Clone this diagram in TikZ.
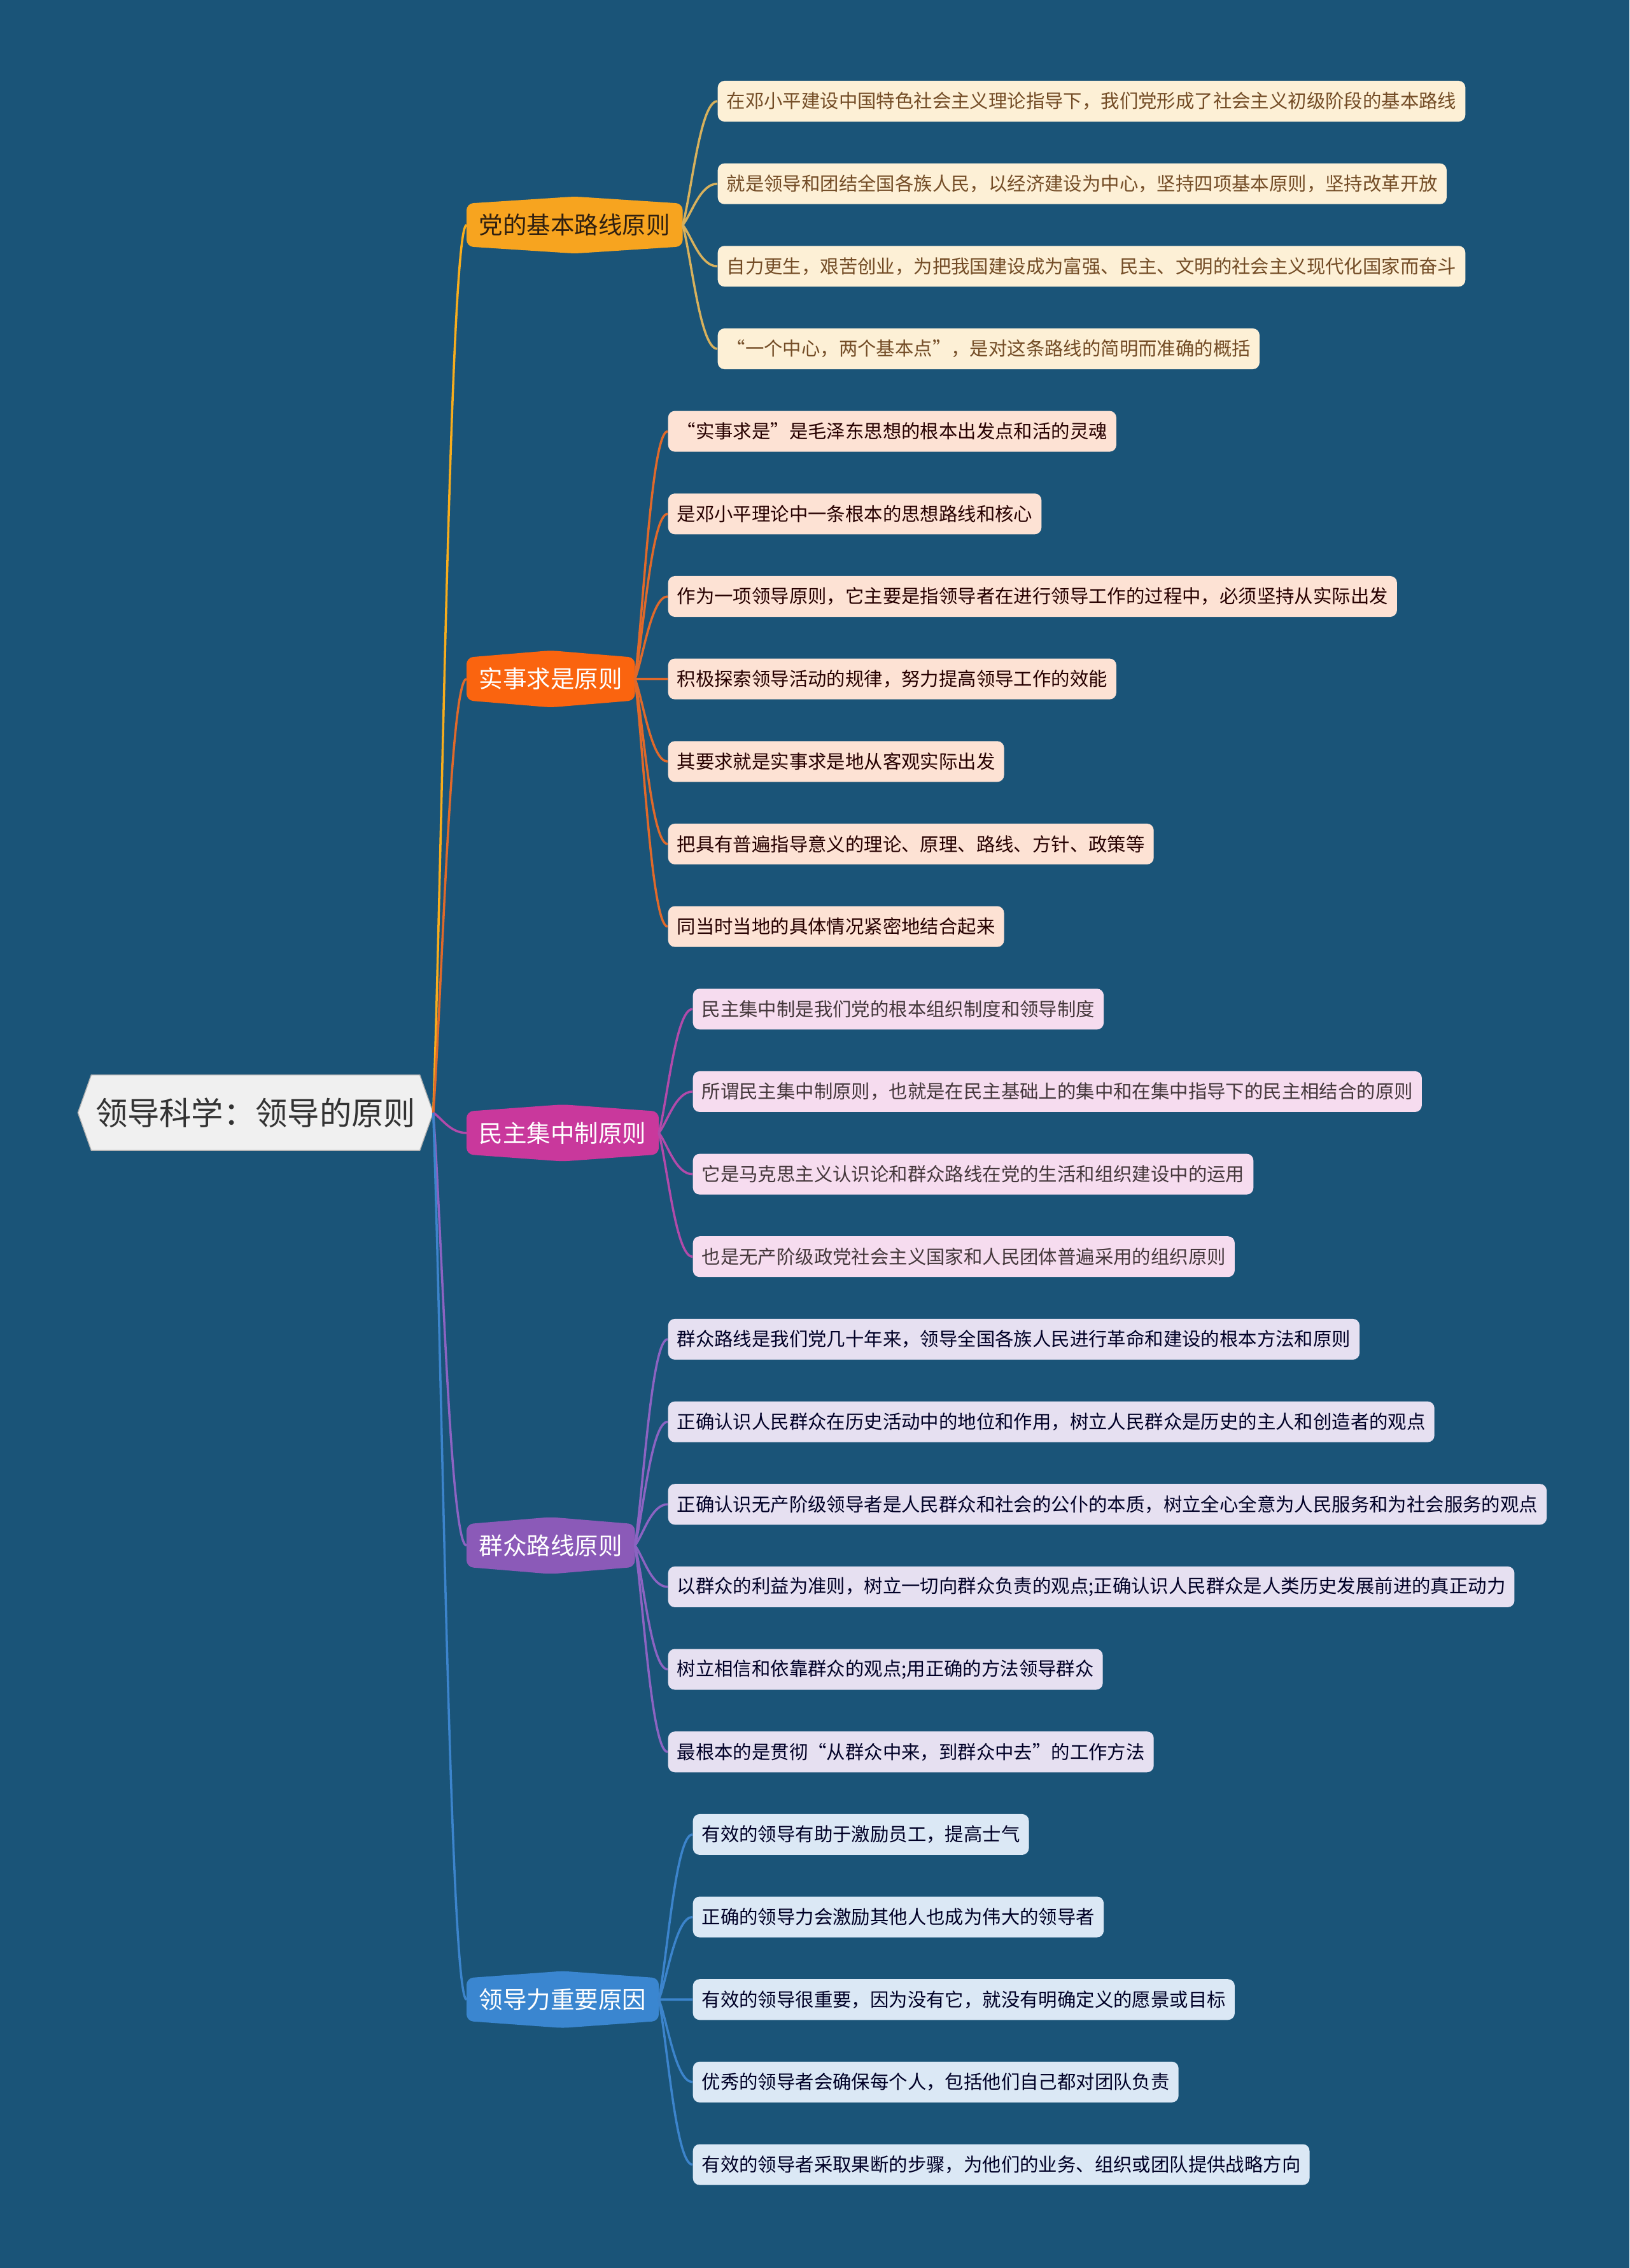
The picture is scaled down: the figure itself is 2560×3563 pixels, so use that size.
\documentclass[tikz,border=0pt]{standalone}
\usepackage{fontspec}
\setmainfont{Noto Sans CJK SC}
\usepackage{tikz}
\usetikzlibrary{calc}

\definecolor{bgblue}{HTML}{1A5478}
\definecolor{rootfill}{HTML}{F0F0F0}
\definecolor{ca}{HTML}{F7A41F}
\definecolor{cb}{HTML}{FA640F}
\definecolor{cc}{HTML}{C9389C}
\definecolor{cd}{HTML}{8B5AB8}
\definecolor{ce}{HTML}{3A86D0}
\definecolor{la}{HTML}{FDF0D6}
\definecolor{lb}{HTML}{FDE2D4}
\definecolor{lc}{HTML}{F6DCEF}
\definecolor{ld}{HTML}{E6E0F1}
\definecolor{le}{HTML}{DBE8F5}
\definecolor{ka}{HTML}{D8B15C}
\definecolor{kb}{HTML}{E0692A}
\definecolor{kc}{HTML}{B24AAA}
\definecolor{kd}{HTML}{8C63C2}
\definecolor{ke}{HTML}{3C84CC}

\pgfdeclarelayer{back}
\pgfdeclarelayer{shapes}
\pgfsetlayers{back,shapes,main}

\tikzset{
  link/.style={line width=1pt,
    to path={.. controls ($(\tikztostart)!0.25!(\tikztotarget)$) and ($(\tikztostart |- \tikztotarget)!0.5!(\tikztotarget)$) .. (\tikztotarget)}},
  rootbox/.style={inner xsep=0.06cm, inner ysep=0pt, minimum height=1.17cm, text=black!80,
    font=\fontsize{14.3}{17}\selectfont},
  branch/.style={anchor=west, inner xsep=0.19cm, inner ysep=0pt, minimum height=0.66cm,
    font=\fontsize{10.67}{13}\selectfont},
  leaf/.style={anchor=west, rounded corners=3pt, inner xsep=0.14cm, inner ysep=0pt,
    minimum height=0.64cm, font=\fontsize{8.36}{10}\selectfont},
  leafa/.style={leaf, fill=la, text=brown!60!black},
  leafb/.style={leaf, fill=lb, text=black!85!red},
  leafc/.style={leaf, fill=lc, text=black!85!magenta},
  leafd/.style={leaf, fill=ld, text=black!85!blue},
  leafe/.style={leaf, fill=le, text=black!85!blue}
}

% branch outline: box with a low peak on top and bottom
\newcommand\branchbox[2]{%
  \fill[#2, rounded corners=3pt] ($(#1.north)+(0,11)$) -- (#1.north east) -- (#1.south east)
    -- ($(#1.south)+(0,-11)$) -- (#1.south west) -- (#1.north west) -- cycle;}

\begin{document}
\begin{tikzpicture}[x=0.01cm,y=0.01cm]
\begin{pgfonlayer}{back}
\fill[bgblue] (0,0) rectangle (2560,-3563);
\end{pgfonlayer}

% root
\node[rootbox] (root) at (401.5,-1748) {领导科学：领导的原则};
\coordinate (rootpt) at ($(root.east)+(21,0)$);
\coordinate (rootlf) at ($(root.west)+(-21,0)$);

% main branches
\node[branch, text=black!75!brown] (b1) at (733,-353.5) {党的基本路线原则};
\node[branch, text=white] (b2) at (733,-1066.6) {实事求是原则};
\node[branch, text=white] (b3) at (733,-1779.8) {民主集中制原则};
\node[branch, text=white] (b4) at (733,-2428) {群众路线原则};
\node[branch, text=white] (b5) at (733,-3141.2) {领导力重要原因};

% leaves of b1
\node[leafa] (a1) at (1127,-159) {在邓小平建设中国特色社会主义理论指导下，我们党形成了社会主义初级阶段的基本路线};
\node[leafa] (a2) at (1127,-288.7) {就是领导和团结全国各族人民，以经济建设为中心，坚持四项基本原则，坚持改革开放};
\node[leafa] (a3) at (1127,-418.3) {自力更生，艰苦创业，为把我国建设成为富强、民主、文明的社会主义现代化国家而奋斗};
\node[leafa] (a4) at (1127,-548) {“一个中心，两个基本点”，是对这条路线的简明而准确的概括};

% leaves of b2
\node[leafb] (bb1) at (1049,-677.6) {“实事求是”是毛泽东思想的根本出发点和活的灵魂};
\node[leafb] (bb2) at (1049,-807.3) {是邓小平理论中一条根本的思想路线和核心};
\node[leafb] (bb3) at (1049,-937) {作为一项领导原则，它主要是指领导者在进行领导工作的过程中，必须坚持从实际出发};
\node[leafb] (bb4) at (1049,-1066.6) {积极探索领导活动的规律，努力提高领导工作的效能};
\node[leafb] (bb5) at (1049,-1196.3) {其要求就是实事求是地从客观实际出发};
\node[leafb] (bb6) at (1049,-1325.9) {把具有普遍指导意义的理论、原理、路线、方针、政策等};
\node[leafb] (bb7) at (1049,-1455.6) {同当时当地的具体情况紧密地结合起来};

% leaves of b3
\node[leafc] (c1) at (1088,-1585.3) {民主集中制是我们党的根本组织制度和领导制度};
\node[leafc] (c2) at (1088,-1714.9) {所谓民主集中制原则，也就是在民主基础上的集中和在集中指导下的民主相结合的原则};
\node[leafc] (c3) at (1088,-1844.6) {它是马克思主义认识论和群众路线在党的生活和组织建设中的运用};
\node[leafc] (c4) at (1088,-1974.2) {也是无产阶级政党社会主义国家和人民团体普遍采用的组织原则};

% leaves of b4
\node[leafd] (d1) at (1049,-2103.9) {群众路线是我们党几十年来，领导全国各族人民进行革命和建设的根本方法和原则};
\node[leafd] (d2) at (1049,-2233.6) {正确认识人民群众在历史活动中的地位和作用，树立人民群众是历史的主人和创造者的观点};
\node[leafd] (d3) at (1049,-2363.2) {正确认识无产阶级领导者是人民群众和社会的公仆的本质，树立全心全意为人民服务和为社会服务的观点};
\node[leafd] (d4) at (1049,-2492.9) {以群众的利益为准则，树立一切向群众负责的观点;正确认识人民群众是人类历史发展前进的真正动力};
\node[leafd] (d5) at (1049,-2622.5) {树立相信和依靠群众的观点;用正确的方法领导群众};
\node[leafd] (d6) at (1049,-2752.2) {最根本的是贯彻“从群众中来，到群众中去”的工作方法};

% leaves of b5
\node[leafe] (e1) at (1088,-2881.9) {有效的领导有助于激励员工，提高士气};
\node[leafe] (e2) at (1088,-3011.5) {正确的领导力会激励其他人也成为伟大的领导者};
\node[leafe] (e3) at (1088,-3141.2) {有效的领导很重要，因为没有它，就没有明确定义的愿景或目标};
\node[leafe] (e4) at (1088,-3270.8) {优秀的领导者会确保每个人，包括他们自己都对团队负责};
\node[leafe] (e5) at (1088,-3400.5) {有效的领导者采取果断的步骤，为他们的业务、组织或团队提供战略方向};

\begin{pgfonlayer}{shapes}
\fill[rootfill, draw=gray!60] (rootlf) -- (root.north west) -- (root.north east) -- (rootpt)
  -- (root.south east) -- (root.south west) -- cycle;
\branchbox{b1}{ca}
\branchbox{b2}{cb}
\branchbox{b3}{cc}
\branchbox{b4}{cd}
\branchbox{b5}{ce}

% root to branches
\draw[link, ca!90!yellow] (rootpt) to (b1.west);
\draw[link, kb] (rootpt) to (b2.west);
\draw[link, kc] (rootpt) to (b3.west);
\draw[link, kd] (rootpt) to (b4.west);
\draw[link, ke] (rootpt) to (b5.west);

% branches to leaves
\draw[link, ka] (b1.east) to (a1.west);
\draw[link, ka] (b1.east) to (a2.west);
\draw[link, ka] (b1.east) to (a3.west);
\draw[link, ka] (b1.east) to (a4.west);
\draw[link, kb] (b2.east) to (bb1.west);
\draw[link, kb] (b2.east) to (bb2.west);
\draw[link, kb] (b2.east) to (bb3.west);
\draw[link, kb] (b2.east) to (bb4.west);
\draw[link, kb] (b2.east) to (bb5.west);
\draw[link, kb] (b2.east) to (bb6.west);
\draw[link, kb] (b2.east) to (bb7.west);
\draw[link, kc] (b3.east) to (c1.west);
\draw[link, kc] (b3.east) to (c2.west);
\draw[link, kc] (b3.east) to (c3.west);
\draw[link, kc] (b3.east) to (c4.west);
\draw[link, kd] (b4.east) to (d1.west);
\draw[link, kd] (b4.east) to (d2.west);
\draw[link, kd] (b4.east) to (d3.west);
\draw[link, kd] (b4.east) to (d4.west);
\draw[link, kd] (b4.east) to (d5.west);
\draw[link, kd] (b4.east) to (d6.west);
\draw[link, ke] (b5.east) to (e1.west);
\draw[link, ke] (b5.east) to (e2.west);
\draw[link, ke] (b5.east) to (e3.west);
\draw[link, ke] (b5.east) to (e4.west);
\draw[link, ke] (b5.east) to (e5.west);
\end{pgfonlayer}
\end{tikzpicture}
\end{document}
